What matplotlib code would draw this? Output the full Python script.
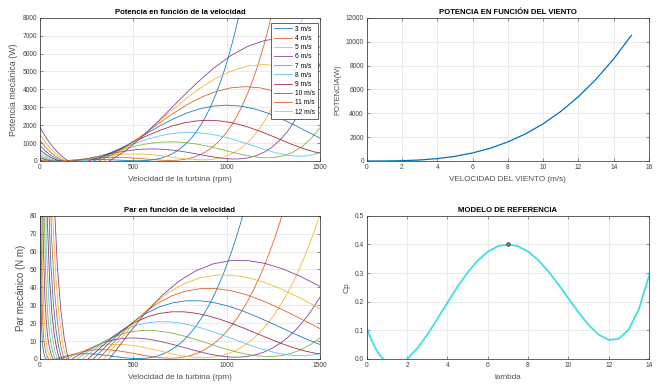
import numpy as np
import matplotlib
matplotlib.use("Agg")
import matplotlib.pyplot as plt

plt.rcParams['font.family'] = ['Liberation Sans', 'DejaVu Sans']

# Cp(lambda) (and its continuation
# past lambda = 14, read from the steep low-wind curves)
lam = [0.0, 0.05, 0.1, 0.2, 0.3, 0.4, 0.5, 0.6, 0.7, 0.8, 0.9, 1.0, 1.5, 2.0,
       2.5, 3.0, 3.5, 4.0, 4.5, 5.0, 5.5, 6.0, 6.5, 7.0, 7.5, 8.0, 8.5, 9.0,
       9.5, 10.0, 10.5, 11.0, 11.5, 12.0, 12.5, 13.0, 13.5, 14.0, 14.5, 15.0,
       15.5, 16.0, 16.5, 17.0, 17.5, 18.0, 18.5, 19.0, 19.5, 20.0, 20.5, 21.0,
       21.5, 22.0, 22.5, 23.0, 23.5, 24.0, 24.5, 25.0, 25.5, 26.0, 26.5, 27.0,
       27.5, 28.0, 28.5, 29.0, 29.5, 30.0]
cp = [0.11, 0.0999, 0.0902, 0.0724, 0.0564, 0.0421, 0.0295, 0.0186, 0.0091,
      0.0012, -0.0053, -0.0104, -0.0177, 0.0, 0.0361, 0.0845, 0.1396, 0.1969,
      0.2521, 0.3018, 0.3433, 0.3743, 0.3935, 0.4, 0.3937, 0.3752, 0.3456,
      0.3067, 0.2611, 0.212, 0.1631, 0.119, 0.0849, 0.0665, 0.0703, 0.1036,
      0.1739, 0.29, 0.4608, 0.6962, 1.0065, 1.4031, 1.8975, 2.5022, 3.2304,
      4.0958, 5.1128, 6.2965, 7.6626, 9.2276, 11.0085, 13.0231, 15.2897,
      17.8274, 20.6559, 23.7956, 27.2675, 31.0934, 35.2955, 39.897, 44.9215,
      50.3933, 56.3375, 62.7798, 69.7464, 77.2643, 85.3613, 94.0656,
      103.4062, 113.4128]
cp_peak = (7.0, 0.40)

wind_speeds = [3, 4, 5, 6, 7, 8, 9, 10, 11, 12, 13]
legend_labels = ['3 m/s', '4 m/s', '5 m/s', '6 m/s', '7 m/s', '8 m/s',
                 '9 m/s', '10 m/s', '11 m/s', '12 m/s']

wind_axis = list(range(16))
wind_power = [0, 3, 25, 84, 200, 390, 674, 1070, 1597, 2274, 3120, 4153,
              5391, 6855, 8561, 10530]

P_COEF = 7.8            # W per (m/s)^3 per unit of Cp
RPM_PER_LAMBDA = 14.29  # turbine rpm per (lambda * m/s)

colors = ['#0072BD', '#D95319', '#EDB120', '#7E2F8E', '#77AC30', '#4DBEEE', '#A2142F']

fig = plt.figure(figsize=(6.61, 3.87), dpi=100)
ax1 = fig.add_axes([0.0605, 0.584, 0.4236, 0.370])
ax2 = fig.add_axes([0.5548, 0.584, 0.4271, 0.370])
ax3 = fig.add_axes([0.0605, 0.0724, 0.4236, 0.370])
ax4 = fig.add_axes([0.5548, 0.0724, 0.4271, 0.370])


def style(ax, title, xlabel, ylabel, ysize):
    ax.set_title(title, fontsize=5.6, fontweight='bold', pad=2.5, color='black')
    ax.set_xlabel(xlabel, fontsize=5.9, color='#505050', labelpad=3.5)
    ax.set_ylabel(ylabel, fontsize=ysize, color='#505050', labelpad=3)
    ax.tick_params(direction='in', length=2, width=0.4, labelsize=4.8,
                   colors='#404040', pad=2, top=True, right=True)
    ax.grid(True, color='#e3e3e3', lw=0.5)
    ax.set_axisbelow(True)
    for s in ax.spines.values():
        s.set_color('#262626')
        s.set_linewidth(0.5)


lam_a = np.asarray(lam)
cp_a = np.asarray(cp)
lines = []
for i, v in enumerate(wind_speeds):
    rpm = lam_a * v * RPM_PER_LAMBDA
    p = P_COEF * cp_a * v ** 3
    ln, = ax1.plot(rpm, p, color=colors[i % 7], lw=0.6, alpha=0.9)
    lines.append(ln)
    w = rpm * np.pi / 30
    t = np.full_like(p, np.nan)
    t[w > 0] = p[w > 0] / w[w > 0]
    ax3.plot(rpm, t, color=colors[i % 7], lw=0.6, alpha=0.9)

ax1.set_xlim(0, 1500)
ax1.set_ylim(0, 8000)
ax1.set_xticks([0, 500, 1000, 1500])
ax1.set_yticks(range(0, 8001, 1000))
style(ax1, 'Potencia en función de la velocidad', 'Velocidad de la turbina (rpm)',
      'Potencia mecánica (W)', 6.4)
leg = ax1.legend(lines[:10], legend_labels, loc='upper right',
                 bbox_to_anchor=(0.993, 0.965), borderaxespad=0, fontsize=4.8,
                 handlelength=2.7, labelspacing=0.33, handletextpad=0.5,
                 borderpad=0.45, fancybox=False, edgecolor='#262626', framealpha=1)
leg.get_frame().set_linewidth(0.5)

ax2.plot(wind_axis, wind_power, color='#0072BD', lw=0.9)
ax2.set_xlim(0, 16)
ax2.set_ylim(0, 12000)
ax2.set_xticks(range(0, 17, 2))
ax2.set_yticks(range(0, 12001, 2000))
style(ax2, 'POTENCIA EN FUNCIÓN DEL VIENTO', 'VELOCIDAD DEL VIENTO (m/s)',
      'POTENCIA(W)', 5.4)

ax3.set_xlim(0, 1500)
ax3.set_ylim(0, 80)
ax3.set_xticks([0, 500, 1000, 1500])
ax3.set_yticks(range(0, 81, 10))
style(ax3, 'Par en función de la velocidad', 'Velocidad de la turbina (rpm)',
      'Par mecánico (N m)', 7.0)

ax4.plot(lam_a, cp_a, color='#40E0E0', lw=1.3)
ax4.plot([cp_peak[0]], [cp_peak[1]], marker='o', ms=2.5, mec='#333333',
         mfc='#888888', mew=0.6)
ax4.set_xlim(0, 14)
ax4.set_ylim(0, 0.5)
ax4.set_xticks(range(0, 15, 2))
ax4.set_yticks([0, 0.1, 0.2, 0.3, 0.4, 0.5])
style(ax4, 'MODELO DE REFERENCIA', 'lambda', 'Cp', 6.0)

fig.savefig('out.png', dpi=100)
